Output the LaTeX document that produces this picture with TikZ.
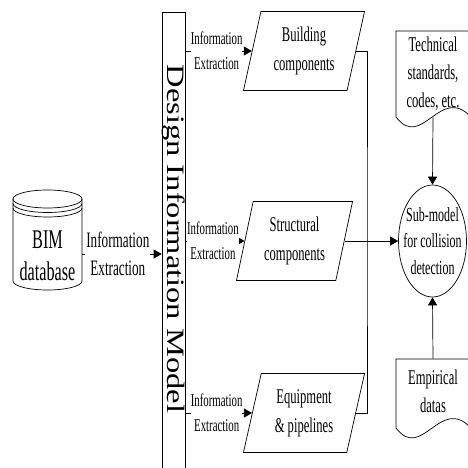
\documentclass[tikz,border=0pt]{standalone}
\usepackage{fontspec}
\setmainfont{Liberation Serif}
\newfontfamily\narrowfont[FakeStretch=0.6]{Liberation Serif}
\newfontfamily\widefont[FakeStretch=1.3]{Liberation Serif}
\usetikzlibrary{shapes, arrows.meta}

\begin{document}
\begin{tikzpicture}[x=1pt, y=1pt, line width=0.7pt,
        flow/.style={-{Triangle[length=8pt, width=9pt]}},
        para/.style={trapezium, draw, trapezium left angle=75.6, trapezium right angle=104.4,
            trapezium stretches=true, minimum width=122pt, minimum height=79pt, inner sep=0pt,
            align=center, font=\narrowfont\fontsize{21}{29}\selectfont},
        txt/.style={align=center, inner sep=0pt, font=\narrowfont\fontsize{21}{28}\selectfont},
        extract/.style={fill=white, align=center, inner sep=0pt, xshift=-2pt, font=\narrowfont\fontsize{18}{25}\selectfont}]
        \useasboundingbox (0,0) rectangle (468,467);

        \draw (47.5,268) ellipse [x radius=34.5, y radius=9];
        \draw (13,263.5) arc [start angle=180, end angle=360, x radius=34.5, y radius=9];
        \draw (13,259) arc [start angle=180, end angle=360, x radius=34.5, y radius=9];
        \draw (13,268) -- (13,186) arc [start angle=180, end angle=360, x radius=34.5, y radius=9] -- (82,268);
        \node[txt, font=\narrowfont\fontsize{27}{32}\selectfont] (bim) at (47.5,211) {BIM\\database};
        \coordinate (bimout) at (82,213);

        \node[draw, minimum width=23pt, minimum height=470pt, inner sep=0pt] (dim) at (173.5,220) {};
        \node[rotate=-90, inner sep=0pt, font=\widefont\fontsize{25}{30}\selectfont] (dimtext) at (173.5,228) {Design Information Model};

        \node[para] (build) at (304,416) {Building\\components};
        \node[para, minimum width=117pt] (struct) at (294.5,226) {Structural\\components};
        \node[para] (equip) at (304,54) {Equipment\\\& pipelines};

        \node[ellipse, draw, minimum width=68pt, minimum height=112pt, inner sep=0pt] (sub) at (432.5,226) {};
        \node[txt, font=\narrowfont\fontsize{20}{26.5}\selectfont] (subtext) at (sub.center) {Sub-model\\for collision\\detection};

        \draw (471,350) -- (471,436) -- (396,436) -- (396,350) .. controls (422,316) and (440,383) .. (471,350);
        \node[txt, minimum width=74pt, minimum height=86pt] (tech) at (433,393) {Technical\\standards,\\codes, etc.};
        \draw (471,39) -- (471,108) -- (396,108) -- (396,39) .. controls (422,5) and (440,72) .. (471,39);
        \node[txt, minimum width=74pt, minimum height=64pt] (emp) at (433,76) {Empirical\\datas};

        \draw[flow] (bimout) -- (bimout -| dim.west)
            node[midway, extract, xshift=-2pt, inner sep=1pt, font=\narrowfont\fontsize{22}{28}\selectfont] {Information\\Extraction};
        \draw[flow] (dim.east |- build.west) -- (build.west) node[midway, extract] {Information\\Extraction};
        \draw[flow] (dim.east |- struct.west) -- (struct.west) node[midway, extract] {Information\\Extraction};
        \draw[flow] (dim.east |- equip.west) -- (equip.west) node[midway, extract] {Information\\Extraction};

        \coordinate (bus) at (367,226);
        \draw (build.east) -| (bus) |- (equip.east);
        \draw[flow] (struct.east) -- (struct.east -| sub.west);
        \draw[flow] (tech.south) -- (sub.north);
        \draw[flow] (emp.north) -- (sub.south);
\end{tikzpicture}
\end{document}
